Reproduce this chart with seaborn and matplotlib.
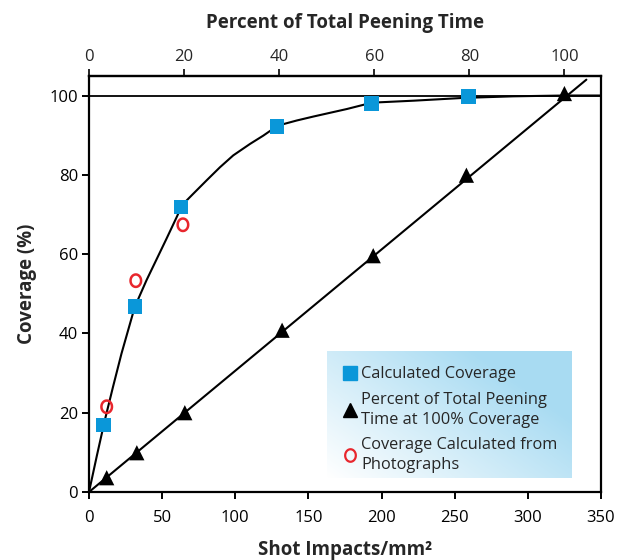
import numpy as np
import pandas as pd
import matplotlib
matplotlib.use("Agg")
import matplotlib.pyplot as plt
from matplotlib.lines import Line2D
from matplotlib.path import Path
import seaborn as sns

# ---- data ----
calc_x = [10.1, 31.3, 62.8, 128.6, 193.0, 259.6]
calc_y = [16.9, 46.8, 71.9, 92.2, 98.0, 99.7]

photo_x = [12.1, 32.0, 64.2]
photo_y = [21.5, 53.3, 67.4]

tri_x = [12.1, 32.7, 65.5, 132.0, 194.3, 258.0, 325.0]
tri_y = [3.6, 9.9, 20.0, 40.8, 59.6, 79.9, 100.5]

curve_x = [0, 5.4, 10.8, 16.4, 22.2, 31.3, 39.3, 53.0, 59.9, 63.7, 71.2, 80.4,
           89.5, 98.6, 110.1, 119.2, 129.0, 142.0, 153.4, 176.3, 193.4, 222.0,
           256.0, 290.0, 325.0, 350.0]
curve_y = [0, 9.2, 18.1, 26.5, 34.9, 46.7, 53.4, 63.9, 69.3, 72.4, 75.2, 78.6,
           81.9, 84.9, 87.8, 89.9, 92.4, 93.7, 94.7, 96.6, 98.2, 98.7,
           99.4, 99.8, 100.0, 100.0]

fit_x = [0, 340]
fit_y = [0, 104]

full_time_shots = 325.0  # 100 % of peening time on the top scale

bottom_ticks = [0, 50, 100, 150, 200, 250, 300, 350]
top_ticks = [0, 20, 40, 60, 80, 100]
y_ticks = [0, 20, 40, 60, 80, 100]

legend_labels = ["Calculated Coverage",
                 "Percent of Total Peening\nTime at 100% Coverage",
                 "Coverage Calculated from\nPhotographs"]

# ---- styling ----
sns.set_theme(style="ticks")
plt.rcParams['font.family'] = ['Open Sans', 'DejaVu Sans']

BLUE = "#0a97d9"
RED = "#e8262d"

# oval "O" marker
th = np.linspace(0, 2 * np.pi, 60)
oval = Path(np.column_stack([0.85 * np.cos(th), np.sin(th)]), closed=True)

fig = plt.figure(figsize=(6.22, 5.6), dpi=100)
ax = fig.add_axes([89 / 622, 1 - 492 / 560, (601 - 89) / 622, (492 - 75.7) / 560])

# horizontal line at 100 %
ax.axhline(100, color="black", lw=1.3, zorder=2)

# fitted lines
sns.lineplot(x=curve_x, y=curve_y, ax=ax, color="black", lw=1.5, sort=False,
             estimator=None, zorder=2)
sns.lineplot(x=fit_x, y=fit_y, ax=ax, color="black", lw=1.5, sort=False,
             estimator=None, zorder=2)

# markers
sns.scatterplot(x=calc_x, y=calc_y, ax=ax, marker="s", s=110, color=BLUE,
                edgecolor="none", zorder=4)
sns.scatterplot(x=tri_x, y=tri_y, ax=ax, marker="^", s=120, color="black",
                edgecolor="none", zorder=4)
sns.scatterplot(x=photo_x, y=photo_y, ax=ax, marker=oval, s=80,
                facecolors="none", edgecolor=RED, linewidth=1.8, zorder=4)

ax.set_xlim(0, 350)
ax.set_ylim(0, 105)

# legend background gradient
lx0, lx1, ly0, ly1 = 162.6, 330.0, 3.5, 35.5
gx, gy = np.meshgrid(np.linspace(0, 1, 200), np.linspace(0, 1, 100))
t = np.clip((gx * 0.75 + gy * 0.55), 0, 1)
c0 = np.array([1.0, 1.0, 1.0])
c1 = np.array([0.66, 0.86, 0.95])
img = c0[None, None, :] * (1 - t[..., None]) + c1[None, None, :] * t[..., None]
ax.imshow(img, extent=[lx0, lx1, ly0, ly1], origin="lower", aspect="auto",
          zorder=1)
ax.set_xlim(0, 350)
ax.set_ylim(0, 105)

handles = [
    Line2D([], [], marker="s", color=BLUE, ls="none", markersize=9.5),
    Line2D([], [], marker="^", color="black", ls="none", markersize=10.5),
    Line2D([], [], marker=oval, ls="none", markersize=9, markerfacecolor="none",
           markeredgecolor=RED, markeredgewidth=1.6),
]
leg = ax.legend(handles, legend_labels, loc="upper left",
                bbox_to_anchor=((lx0 + 9) / 350, (ly1 - 2.6) / 105),
                frameon=False, fontsize=11.8, handlelength=0.6, handletextpad=0.4,
                labelspacing=0.58, borderaxespad=0, borderpad=0.3)
leg.set_zorder(5)
for txt in leg.get_texts():
    txt.set_linespacing(1.3)

# axes styling
for sp in ax.spines.values():
    sp.set_linewidth(1.6)
    sp.set_color("black")
ax.set_xticks(bottom_ticks)
ax.set_yticks(y_ticks)
ax.tick_params(axis="both", direction="out", length=5, width=1.4, labelsize=12,
               colors="black", pad=3)
ax.tick_params(axis="x", pad=8)
ax.set_xlabel("Shot Impacts/mm²", fontsize=13.5, fontweight="bold", labelpad=10)
ax.set_ylabel("Coverage (%)", fontsize=13.5, fontweight="bold", labelpad=9)

top = ax.secondary_xaxis("top", functions=(lambda v: v * 100 / full_time_shots,
                                           lambda v: v * full_time_shots / 100))
top.set_xticks(top_ticks)
top.tick_params(direction="out", length=5, width=1.4, labelsize=12, pad=3)
top.spines["top"].set_linewidth(1.6)
top.set_xlabel("Percent of Total Peening Time", fontsize=13.5, fontweight="bold",
               labelpad=15)

fig.savefig("out.png", dpi=100)
